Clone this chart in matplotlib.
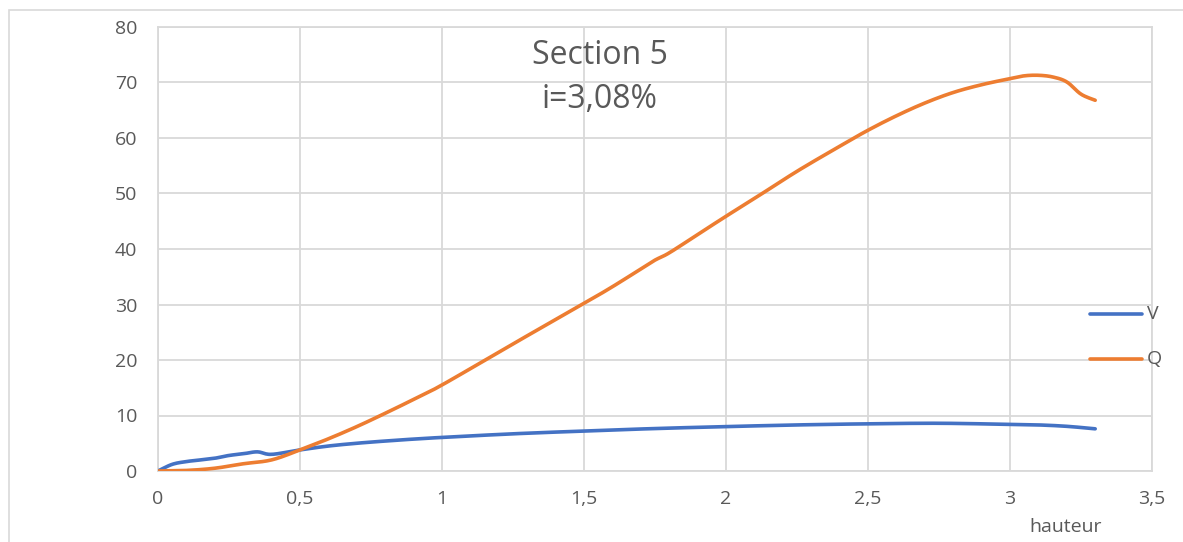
import matplotlib
matplotlib.use("Agg")
import numpy as np
import matplotlib.pyplot as plt
from matplotlib.lines import Line2D
from matplotlib.patches import Rectangle

# Height (hauteur) and the two measured series
hauteur_v = [0, 0.05, 0.1, 0.15, 0.2, 0.25, 0.3, 0.35, 0.4, 0.5, 0.6, 0.7, 0.8, 0.9,
             1.0, 1.25, 1.5, 1.75, 2.0, 2.25, 2.5, 2.75, 3.0, 3.1, 3.2, 3.3]
V = [0, 1.2, 1.7, 2.0, 2.3, 2.8, 3.1, 3.45, 3.0, 3.8, 4.5, 5.0, 5.4, 5.75,
     6.05, 6.7, 7.2, 7.65, 8.0, 8.3, 8.5, 8.6, 8.4, 8.3, 8.05, 7.6]

hauteur_q = [0, 0.1, 0.2, 0.3, 0.4, 0.5, 0.6, 0.7, 0.8, 0.9, 1.0, 1.25, 1.5, 1.6,
             1.7, 1.75, 1.8, 1.9, 2.0, 2.1, 2.25, 2.4, 2.5, 2.6, 2.7, 2.8, 2.9,
             3.0, 3.05, 3.1, 3.15, 3.2, 3.25, 3.3]
Q = [0, 0.1, 0.5, 1.3, 2.0, 3.8, 5.8, 8.0, 10.4, 12.9, 15.5, 22.9, 30.2, 33.2,
     36.4, 38.0, 39.3, 42.6, 45.9, 49.1, 54.0, 58.5, 61.4, 64.0, 66.3, 68.2, 69.6,
     70.7, 71.2, 71.3, 71.0, 70.1, 67.9, 66.8]

x_ticks = [0, 0.5, 1, 1.5, 2, 2.5, 3, 3.5]
x_tick_labels = ["0", "0,5", "1", "1,5", "2", "2,5", "3", "3,5"]
y_ticks = [0, 10, 20, 30, 40, 50, 60, 70, 80]

title_lines = ["Section 5", "i=3,08%"]
series_names = ["V", "Q"]

BLUE = "#4472C4"
ORANGE = "#ED7D31"
GRID = "#d9d9d9"
TEXT = "#595959"
FONT = ["Open Sans", "DejaVu Sans"]

plt.rcParams["font.family"] = FONT


def smooth_path(x, y, steps=12):
    """Bezier-smoothed path through the data points (smoothed line style)."""
    x = np.asarray(x, float)
    y = np.asarray(y, float)
    px = np.concatenate([[x[0]], x, [x[-1]]])
    py = np.concatenate([[y[0]], y, [y[-1]]])
    xs, ys = [x[0]], [y[0]]
    t = np.linspace(0, 1, steps + 1)[1:]
    for i in range(1, len(px) - 2):
        p0, p1, p2, p3 = (np.array([px[j], py[j]]) for j in (i - 1, i, i + 1, i + 2))
        c1 = p1 + (p2 - p0) / 6.0
        c2 = p2 - (p3 - p1) / 6.0
        for tt in t:
            b = ((1 - tt) ** 3) * p1 + 3 * ((1 - tt) ** 2) * tt * c1 \
                + 3 * (1 - tt) * tt ** 2 * c2 + tt ** 3 * p2
            xs.append(b[0])
            ys.append(b[1])
    return xs, ys


W, H = 1183, 542
fig = plt.figure(figsize=(W / 100, H / 100), dpi=100)
fig.patch.set_facecolor("white")

# chart-area frame (extends past the right and bottom edges)
fig.patches.append(Rectangle((9 / W, -0.1), 1.2, 1 - 10 / H + 0.1,
                             transform=fig.transFigure, fill=False,
                             edgecolor=GRID, linewidth=1.2))

left, right, top, bottom = 158, 1152, 27, 471
ax = fig.add_axes([left / W, 1 - bottom / H, (right - left) / W, (bottom - top) / H])

ax.plot(*smooth_path(hauteur_v, V), color=BLUE, lw=2.6,
        solid_capstyle="round", solid_joinstyle="round", zorder=3)
ax.plot(*smooth_path(hauteur_q, Q), color=ORANGE, lw=2.6,
        solid_capstyle="round", solid_joinstyle="round", zorder=3)

ax.set_xlim(0, 3.5)
ax.set_ylim(0, 80)
ax.set_xticks(x_ticks)
ax.set_xticklabels(x_tick_labels)
ax.set_yticks(y_ticks)
ax.grid(True, color=GRID, lw=1.3)
ax.set_axisbelow(True)
for s in ax.spines.values():
    s.set_color(GRID)
    s.set_linewidth(1.3)
ax.tick_params(length=0, labelsize=14, colors=TEXT)
ax.tick_params(axis="y", pad=15)
ax.tick_params(axis="x", pad=14)

# title
fig.text(600 / W, 1 - 56 / H, title_lines[0], ha="center", va="center",
         fontsize=23, color=TEXT)
fig.text(600 / W, 1 - 100 / H, title_lines[1], ha="center", va="center",
         fontsize=23, color=TEXT)

# legend
for name, col, yp in zip(series_names, [BLUE, ORANGE], [314, 359]):
    fig.add_artist(Line2D([1090 / W, 1142 / W], [1 - yp / H, 1 - yp / H],
                          transform=fig.transFigure, color=col, lw=2.6,
                          solid_capstyle="round"))
    fig.text(1147 / W, 1 - yp / H, name, ha="left", va="center",
             fontsize=14, color=TEXT)

# axis title
fig.text(1066 / W, 1 - 527 / H, "hauteur", ha="center", va="center",
         fontsize=14, color=TEXT)

fig.savefig("out.png", dpi=100)
